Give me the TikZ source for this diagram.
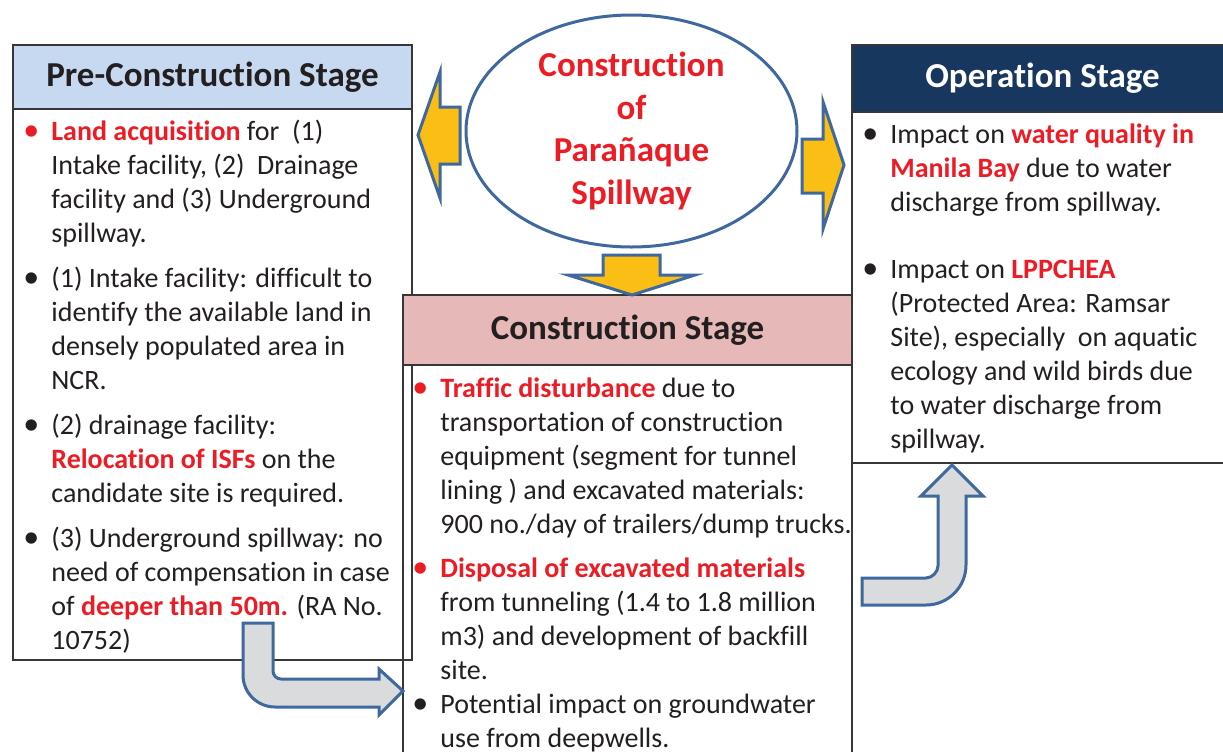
\documentclass[tikz,border=0pt]{standalone}
\usepackage{fontspec}
\setmainfont{Carlito}[Ligatures=NoCommon]
\usepackage{xcolor}
\usepackage{tikz}
\usetikzlibrary{shapes.geometric, arrows.meta, positioning}
\definecolor{precolor}{RGB}{198,217,241}
\definecolor{conscolor}{RGB}{230,185,184}
\definecolor{opcolor}{RGB}{23,55,94}
\definecolor{edgecolor}{RGB}{62,104,158}
\definecolor{shaftcolor}{RGB}{250,190,20}
\definecolor{bentcolor}{RGB}{218,219,221}
\definecolor{keycolor}{RGB}{237,28,36}
\definecolor{inkcolor}{RGB}{35,31,32}
\definecolor{linecolor}{RGB}{55,55,55}
\newcommand{\keytext}[1]{\textbf{\textcolor{keycolor}{#1}}}
\newcommand{\bul}[1][inkcolor]{\leavevmode\llap{\makebox[14pt][l]{\textcolor{#1}{\fontsize{16}{17}\selectfont\textbullet}}}\strut}

\begin{document}
\begin{tikzpicture}[
    x=0.5pt, y=-0.5pt,
    boxline/.style={draw=linecolor, line width=0.9pt},
    header/.style={boxline, minimum height=32pt, inner sep=0pt, font=\fontsize{17.5}{21}\selectfont\bfseries},
    body/.style={anchor=north west, inner sep=0pt, align=left, text=inkcolor, font=\fontsize{14}{17}\selectfont},
    blockarrow/.style={draw=edgecolor, line width=1.5pt, line join=miter, fill=shaftcolor},
    bentarrow/.style={blockarrow, fill=bentcolor}
]
    \useasboundingbox (0,0) rectangle (1223,751);
    \clip (0,0) rectangle (1223,751);

    % Stage boxes
    \draw[boxline] (13,45) rectangle (412,660);
    \node[header, fill=precolor, text=inkcolor, minimum width=199.5pt] (prehead) at (212.5,77) {Pre-Construction Stage};

    \draw[boxline] (852,45) rectangle (1240,463);
    \node[header, fill=opcolor, text=white, minimum width=190.5pt, minimum height=33.5pt] (ophead) at (1042.5,78.5) {Operation Stage};

    \draw[boxline] (403,295) rectangle (852,770);
    \node[header, fill=conscolor, text=inkcolor, minimum width=224.5pt, minimum height=35pt] (conshead) at (627.5,330) {Construction Stage};

    % Items
    \node[body] (prebody) at (51,116) {\bul[keycolor]\keytext{Land acquisition} for\ \ (1)\\
        Intake facility, (2)\ \ Drainage\\
        facility and (3) Underground\\
        spillway.\\[5.5pt]
        \bul (1) Intake facility: difficult to\\
        identify the available land in\\
        densely populated area in\\
        NCR.\\[5.5pt]
        \bul (2) drainage facility:\\
        \keytext{Relocation of ISFs} on the\\
        candidate site is required.\\[5.5pt]
        \bul (3) Underground spillway: no\\
        need of compensation in case\\
        of \keytext{deeper than 50m.} (RA No.\\
        10752)};

    \node[body] (consbody) at (440,373) {\bul[keycolor]\keytext{Traffic disturbance} due to\\
        transportation of construction\\
        equipment (segment for tunnel\\
        lining ) and excavated materials:\\
        900 no./day of trailers/dump trucks.\\[5pt]
        \bul[keycolor]\keytext{Disposal of excavated materials}\\
        from tunneling (1.4 to 1.8 million\\
        m3) and development of backfill\\
        site.\\
        \bul Potential impact on groundwater\\
        use from deepwells.};

    \node[body] (opbody) at (890,119) {\bul Impact on \keytext{water quality in}\\
        \keytext{Manila Bay} due to water\\
        discharge from spillway.\\[16.5pt]
        \bul Impact on \keytext{LPPCHEA}\\
        (Protected Area: Ramsar\\
        Site), especially\ \ on aquatic\\
        ecology and wild birds due\\
        to water discharge from\\
        spillway.};

    % Project ellipse
    \node[ellipse, draw=edgecolor, line width=1.5pt, fill=white, minimum width=165.5pt, minimum height=116pt, inner sep=0pt] (spill) at (631.5,131) {};
    \node[align=center, text=keycolor, font=\fontsize{17.5}{21.3}\selectfont\bfseries] (spilltext) at (spill.center) {Construction\\of\\Parañaque\\Spillway};

    % Arrows out of the ellipse
    \draw[blockarrow] (460,107) -- (440,107) -- (440,72) -- (418,135) -- (440,198) -- (440,164) -- (460,164) -- cycle;
    \draw[blockarrow] (802,139) -- (823,139) -- (823,102) -- (844,165) -- (823,229) -- (823,193) -- (802,193) -- cycle;
    \draw[blockarrow] (603,255) -- (660,255) -- (660,275) -- (695,275) -- (632,295) -- (568,275) -- (603,275) -- cycle;

    % Bent arrows between stages
    \draw[bentarrow] (243,623) -- (273,623) -- (273,671) .. controls (273,675.4) and (276.6,679) .. (281,679) -- (379,679) -- (379,669) -- (403,691) -- (379,715) -- (379,707) -- (275,707) .. controls (257.3,707) and (243,692.7) .. (243,675) -- cycle;
    \draw[bentarrow] (862,578) -- (926,578) .. controls (932.6,578) and (938,571.4) .. (938,566) -- (938,496) -- (921,496) -- (952,465) -- (983,496) -- (966,496) -- (966,565) .. controls (966,587.1) and (948.1,605) .. (926,605) -- (862,605) -- cycle;
\end{tikzpicture}
\end{document}
